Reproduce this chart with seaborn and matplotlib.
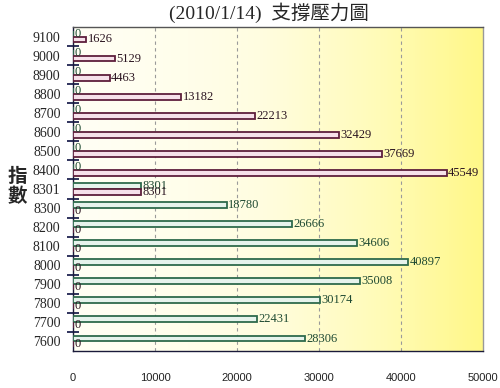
import numpy as np
import pandas as pd
import seaborn as sns
import matplotlib.pyplot as plt
from matplotlib.colors import LinearSegmentedColormap

# Strike prices (top to bottom) and open interest per side
strikes = ['9100', '9000', '8900', '8800', '8700', '8600', '8500', '8400', '8301',
           '8300', '8200', '8100', '8000', '7900', '7800', '7700', '7600']
support = [0, 0, 0, 0, 0, 0, 0, 0, 8301,
           18780, 26666, 34606, 40897, 35008, 30174, 22431, 28306]
pressure = [1626, 5129, 4463, 13182, 22213, 32429, 37669, 45549, 8301,
            0, 0, 0, 0, 0, 0, 0, 0]
series_names = ['支撐', '壓力']
x_ticks = [0, 10000, 20000, 30000, 40000, 50000]

df = pd.DataFrame({
    'strike': strikes * 2,
    'side': [series_names[0]] * len(strikes) + [series_names[1]] * len(strikes),
    'value': support + pressure,
})

sns.set_theme(style='white')
plt.rcParams['font.family'] = ['Liberation Serif', 'Noto Sans CJK TC', 'DejaVu Sans']

fig = plt.figure(figsize=(5, 3.88), dpi=100)
ax = fig.add_axes([0.146, 0.0954, 0.82, 0.835])

# plot-area gradient: pale cream on the left, yellow on the right
cmap = LinearSegmentedColormap.from_list('bg', ['#fffff4', '#fffde0', '#fffbb8', '#fff888'])
grad = np.linspace(0, 1, 256) ** 1.4
ax.imshow(grad[np.newaxis, :], cmap=cmap, aspect='auto', extent=[0, 1, 0, 1],
          transform=ax.transAxes, zorder=0)

sns.barplot(data=df, y='strike', x='value', hue='side', hue_order=series_names,
            order=strikes, orient='h', width=0.62, ax=ax, legend=False, zorder=3)

faces = ['#e6f3ec', '#f6e1ea']
edges = ['#2e6a4c', '#5e1f3c']
label_colors = ['#1f4a32', '#2a1420']
for i, cont in enumerate(ax.containers):
    for p in cont:
        p.set_facecolor(faces[i])
        p.set_edgecolor(edges[i])
        p.set_linewidth(1.3)
    vals = support if i == 0 else pressure
    ax.bar_label(cont, labels=[str(v) for v in vals], padding=1, fontsize=9,
                 color=label_colors[i], family='Liberation Serif')

ax.set_xlim(0, 50000)
ax.set_ylim(len(strikes) - 0.5, -0.5)
ax.set_xticks(x_ticks)
ax.set_xticklabels([str(t) for t in x_ticks], family='Liberation Sans', fontsize=8)
ax.tick_params(axis='x', direction='in', length=3, pad=16, colors='#222222')
ax.tick_params(axis='y', length=0, pad=9, labelsize=10)
ax.set_yticks(np.arange(0.5, len(strikes) - 1, 1), minor=True)
ax.tick_params(axis='y', which='minor', direction='inout', length=9, width=1.3,
               color='#1f2350', left=True)

ax.set_xlabel('')
ax.set_ylabel('')
for x in x_ticks[1:-1]:
    ax.axvline(x, color='#9a9a9a', lw=0.8, ls=(0, (3, 3)), zorder=1)

ax.spines['left'].set_color('#1a1a3a')
ax.spines['bottom'].set_color('#1a1a3a')
ax.spines['top'].set_color('#555555')
ax.spines['right'].set_color('#999999')
for s in ax.spines.values():
    s.set_linewidth(1)

fig.text(0.537, 0.966, '(2010/1/14)  支撐壓力圖', ha='center', va='center', fontsize=14,
         family=['Liberation Serif', 'Noto Sans CJK TC'])
fig.text(0.034, 0.52, '指\n數', ha='center', va='center', fontsize=14, fontweight='bold',
         family='Noto Sans CJK TC', linespacing=1.05)

fig.savefig('out.png', dpi=100)
